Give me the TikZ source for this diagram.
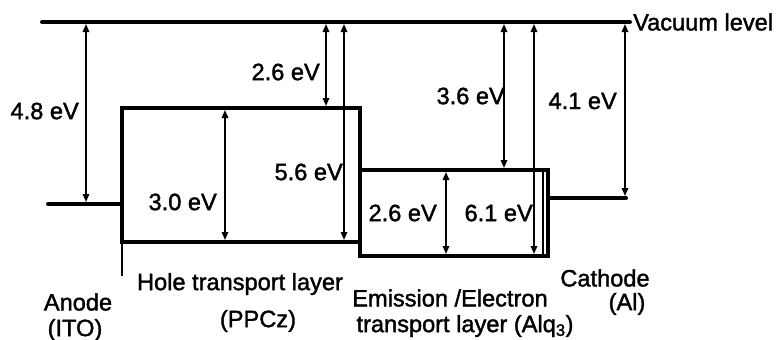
\documentclass[tikz,border=0pt]{standalone}
\usepackage{fontspec}
\setmainfont{Liberation Sans}[FakeBold=1.6]
\usetikzlibrary{arrows.meta}
\begin{document}
\begin{tikzpicture}[x=1pt,y=-1pt,
  level/.style={line width=4pt, line cap=round},
  thinline/.style={line width=1.6pt},
  arr/.style={line width=1.6pt, {Triangle[length=8pt,width=6.5pt]}-{Triangle[length=8pt,width=6.5pt]}},
  lbl/.style={inner sep=0pt, font=\fontsize{23.6}{28}\selectfont},
]
\useasboundingbox (0,0) rectangle (782,340);
% coordinates of levels
\coordinate (vacL) at (42,22);
\coordinate (vacR) at (630,22);
\coordinate (anL) at (48,204);
\coordinate (anR) at (122,204);
\coordinate (htlTL) at (122,108);
\coordinate (htlBR) at (360,242);
\coordinate (alqTL) at (360,170);
\coordinate (alqBR) at (548,256);
\coordinate (caL) at (548,198);
\coordinate (caR) at (626,198);
% levels
\draw[level] (vacL) -- (vacR);
\draw[level] (anL) -- (anR);
\draw[level] (htlTL) rectangle (htlBR);
\draw[level] (alqTL) rectangle (alqBR);
\draw[level] (caL) -- (caR);
\coordinate (t1) at (543,170);
\coordinate (t2) at (543,256);
\draw[thinline] (t1) -- (t2);
\coordinate (e1) at (122,242);
\coordinate (e2) at (122,276);
\draw[thinline] (e1) -- (e2);
% arrows
\coordinate (a1t) at (86,24);  \coordinate (a1b) at (86,202);
\coordinate (a2t) at (326,24); \coordinate (a2b) at (326,106);
\coordinate (a3t) at (344,24); \coordinate (a3b) at (344,240);
\coordinate (a4t) at (225,110); \coordinate (a4b) at (225,240);
\coordinate (a5t) at (504,24); \coordinate (a5b) at (504,168);
\coordinate (a6t) at (534,24); \coordinate (a6b) at (534,254);
\coordinate (a7t) at (446,172); \coordinate (a7b) at (446,254);
\coordinate (a8t) at (625,24); \coordinate (a8b) at (625,196);
\draw[arr] (a1t) -- (a1b);
\draw[arr] (a2t) -- (a2b);
\draw[arr] (a3t) -- (a3b);
\draw[arr] (a4t) -- (a4b);
\draw[arr] (a5t) -- (a5b);
\draw[arr] (a6t) -- (a6b);
\draw[arr] (a7t) -- (a7b);
\draw[arr] (a8t) -- (a8b);
% labels
\node[lbl, anchor=west] (vac) at (633,22) {Vacuum level};
\node[lbl, anchor=east] (l48) at (79,111) {4.8 eV};
\node[lbl, anchor=east] (l26a) at (320,72) {2.6 eV};
\node[lbl, anchor=east] (l30) at (217,202) {3.0 eV};
\node[lbl, anchor=east] (l56) at (343,172) {5.6 eV};
\node[lbl, anchor=east] (l36) at (505,96) {3.6 eV};
\node[lbl, anchor=east] (l41) at (617,101) {4.1 eV};
\node[lbl, anchor=east] (l26b) at (437,213) {2.6 eV};
\node[lbl, anchor=east] (l61) at (533,213) {6.1 eV};
\node[lbl] (htl) at (240,284) {Hole transport layer};
\node[lbl] (ppcz) at (258,321) {(PPCz)};
\node[lbl] (anode) at (78,302) {Anode};
\node[lbl] (ito) at (75,330) {(ITO)};
\node[lbl] (emi) at (450,298) {Emission /Electron};
\node[lbl] (etl) at (465,326) {transport layer (Alq\textsubscript{3})};
\node[lbl] (cath) at (605,278) {Cathode};
\node[lbl] (al) at (627,304) {(Al)};
\end{tikzpicture}
\end{document}
